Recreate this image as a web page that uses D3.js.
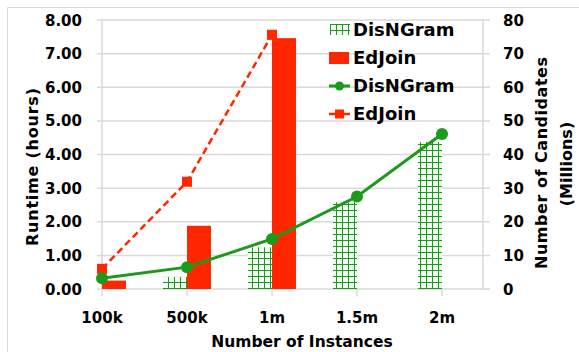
<!DOCTYPE html>
<meta charset="utf-8">
<style>
  body { margin: 0; background: #fff; }
  text { font-family: "DejaVu Sans", sans-serif; font-weight: bold; fill: #000; }
</style>

<!-- Load d3.js -->
<script src="https://d3js.org/d3.v7.min.js"></script>

<!-- Create a div where the graph will take place -->
<div id="chart"></div>

<script>

// data
var categories = ["100k", "500k", "1m", "1.5m", "2m"];
var disNGramRuntime = [0, 0.36, 1.24, 2.58, 4.37];      // bars, hours
var edJoinRuntime = [0.25, 1.88, 7.46, null, null];     // bars, hours
var disNGramCandidates = [3.2, 6.5, 14.9, 27.5, 46.1];  // line, millions
var edJoinCandidates = [6.0, 31.9, 75.6, null, null];   // line, millions
var leftTicks = [0, 1, 2, 3, 4, 5, 6, 7, 8];
var rightTicks = [0, 10, 20, 30, 40, 50, 60, 70, 80];

var green = "#1b9a1b", red = "#ff2600", grid = "#d9d9d9";

// plot area
var plotL = 102, plotR = 483, plotT = 20, plotB = 289;

var svg = d3.select("#chart")
  .append("svg")
    .attr("width", 579)
    .attr("height", 352);

// outer chart border
svg.append("path")
  .attr("d", "M7.5,352V7.5H579")
  .attr("fill", "none")
  .attr("stroke", grid)
  .attr("stroke-width", 1);

// hatched fill for DisNGram bars
var pat = svg.append("defs").append("pattern")
  .attr("id", "grid")
  .attr("patternUnits", "userSpaceOnUse")
  .attr("width", 6)
  .attr("height", 6);
pat.append("rect").attr("width", 6).attr("height", 6).attr("fill", "#f3faf3");
pat.append("path")
  .attr("d", "M0.5,0V6M0,0.5H6")
  .attr("stroke", green)
  .attr("stroke-width", 1);

var x = d3.scalePoint()
  .domain(categories)
  .range([plotL, 442]);

var y = d3.scaleLinear()
  .domain([0, 8])
  .range([plotB, plotT]);

var y2 = d3.scaleLinear()
  .domain([0, 80])
  .range([plotB, plotT]);

// gridlines
svg.append("g")
  .selectAll("line")
  .data(leftTicks)
  .join("line")
    .attr("x1", plotL - 5)
    .attr("x2", plotR + 7)
    .attr("y1", function(d) { return y(d); })
    .attr("y2", function(d) { return y(d); })
    .attr("stroke", grid)
    .attr("stroke-width", 1.5);

// left and right axis lines
svg.append("line")
  .attr("x1", plotL).attr("x2", plotL)
  .attr("y1", plotT).attr("y2", plotB)
  .attr("stroke", grid).attr("stroke-width", 1.5);
svg.append("line")
  .attr("x1", plotR).attr("x2", plotR)
  .attr("y1", plotT).attr("y2", plotB)
  .attr("stroke", grid).attr("stroke-width", 1.5);

// category ticks below
svg.append("g")
  .selectAll("line")
  .data(categories)
  .join("line")
    .attr("x1", function(d) { return x(d); })
    .attr("x2", function(d) { return x(d); })
    .attr("y1", plotB)
    .attr("y2", plotB + 7)
    .attr("stroke", grid)
    .attr("stroke-width", 1.5);

// bars
var bw = 24;
svg.append("g")
  .selectAll("rect")
  .data(categories.filter(function(d, i) { return disNGramRuntime[i] > 0; }))
  .join("rect")
    .attr("x", function(d) { return x(d) - bw; })
    .attr("y", function(d) { return y(disNGramRuntime[categories.indexOf(d)]); })
    .attr("width", bw)
    .attr("height", function(d) { return plotB - y(disNGramRuntime[categories.indexOf(d)]); })
    .attr("fill", "url(#grid)");

svg.append("g")
  .selectAll("rect")
  .data(categories.filter(function(d, i) { return edJoinRuntime[i] != null; }))
  .join("rect")
    .attr("x", function(d) { return x(d); })
    .attr("y", function(d) { return y(edJoinRuntime[categories.indexOf(d)]); })
    .attr("width", bw)
    .attr("height", function(d) { return plotB - y(edJoinRuntime[categories.indexOf(d)]); })
    .attr("fill", red);

// lines
var line = d3.line()
  .defined(function(d) { return d.v != null; })
  .x(function(d) { return x(d.c); })
  .y(function(d) { return y2(d.v); });

var edPts = categories.map(function(c, i) { return {c: c, v: edJoinCandidates[i]}; });
var disPts = categories.map(function(c, i) { return {c: c, v: disNGramCandidates[i]}; });

svg.append("path")
  .datum(edPts)
  .attr("fill", "none")
  .attr("stroke", red)
  .attr("stroke-width", 2.5)
  .attr("stroke-dasharray", "7,4")
  .attr("d", line);

svg.append("g")
  .selectAll("rect")
  .data(edPts.filter(function(d) { return d.v != null; }))
  .join("rect")
    .attr("x", function(d) { return x(d.c) - 5; })
    .attr("y", function(d) { return y2(d.v) - 5; })
    .attr("width", 10)
    .attr("height", 10)
    .attr("fill", red);

svg.append("path")
  .datum(disPts)
  .attr("fill", "none")
  .attr("stroke", green)
  .attr("stroke-width", 3)
  .attr("d", line);

svg.append("g")
  .selectAll("circle")
  .data(disPts)
  .join("circle")
    .attr("cx", function(d) { return x(d.c); })
    .attr("cy", function(d) { return y2(d.v); })
    .attr("r", 6)
    .attr("fill", green);

// tick labels
svg.append("g")
  .selectAll("text")
  .data(leftTicks)
  .join("text")
    .attr("x", 82)
    .attr("y", function(d) { return y(d) + 5.5; })
    .attr("text-anchor", "end")
    .style("font-size", "15px")
    .text(function(d) { return d.toFixed(2); });

svg.append("g")
  .selectAll("text")
  .data(rightTicks)
  .join("text")
    .attr("x", 503)
    .attr("y", function(d) { return y2(d) + 5.5; })
    .style("font-size", "15px")
    .text(function(d) { return d; });

svg.append("g")
  .selectAll("text")
  .data(categories)
  .join("text")
    .attr("x", function(d) { return x(d); })
    .attr("y", 323)
    .attr("text-anchor", "middle")
    .style("font-size", "15px")
    .text(function(d) { return d; });

// axis titles
svg.append("text")
  .attr("x", 302)
  .attr("y", 347)
  .attr("text-anchor", "middle")
  .style("font-size", "15.5px")
  .text("Number of Instances");

svg.append("text")
  .attr("transform", "translate(38,167) rotate(-90)")
  .attr("text-anchor", "middle")
  .attr("textLength", 158)
  .attr("lengthAdjust", "spacing")
  .style("font-size", "16px")
  .text("Runtime (hours)");

svg.append("text")
  .attr("transform", "translate(547,163) rotate(-90)")
  .attr("text-anchor", "middle")
  .attr("textLength", 212)
  .attr("lengthAdjust", "spacing")
  .style("font-size", "16px")
  .text("Number of Candidates");

svg.append("text")
  .attr("transform", "translate(572,164) rotate(-90)")
  .attr("text-anchor", "middle")
  .style("font-size", "16px")
  .text("(Millions)");

// legend
var legendNames = ["DisNGram", "EdJoin", "DisNGram", "EdJoin"];
var legend = svg.append("g");
legendNames.forEach(function(name, i) {
  var by = 36 + i * 28;
  var cy = by - 6;
  if (i == 0) {
    legend.append("rect")
      .attr("x", 330).attr("y", cy - 6).attr("width", 20).attr("height", 11)
      .attr("fill", "url(#grid)");
  } else if (i == 1) {
    legend.append("rect")
      .attr("x", 329).attr("y", cy - 6).attr("width", 20).attr("height", 12)
      .attr("fill", red);
  } else if (i == 2) {
    legend.append("line")
      .attr("x1", 329).attr("x2", 350).attr("y1", cy).attr("y2", cy)
      .attr("stroke", green).attr("stroke-width", 3);
    legend.append("circle").attr("cx", 339.5).attr("cy", cy).attr("r", 4.5).attr("fill", green);
  } else {
    legend.append("line")
      .attr("x1", 329).attr("x2", 350).attr("y1", cy).attr("y2", cy)
      .attr("stroke", red).attr("stroke-width", 2.5);
    legend.append("rect").attr("x", 335).attr("y", cy - 4.5).attr("width", 9).attr("height", 9).attr("fill", red);
  }
  legend.append("text")
    .attr("x", 353)
    .attr("y", by)
    .style("font-size", "18px")
    .text(name);
});

</script>
